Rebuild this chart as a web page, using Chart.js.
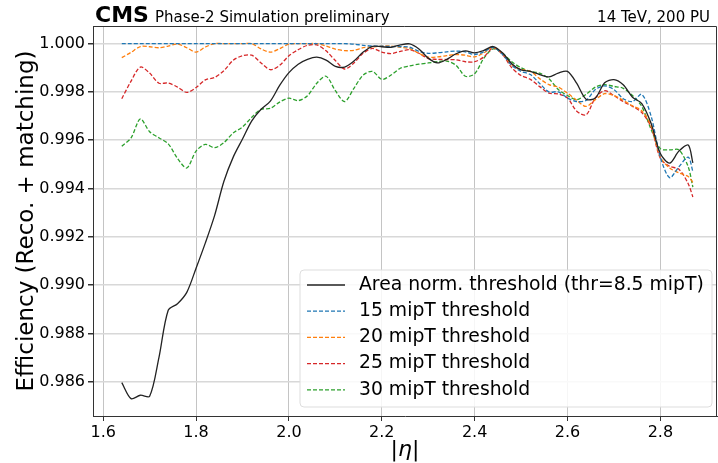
<!DOCTYPE html>
<html>
<head>
<meta charset="utf-8">
<script src="https://cdn.jsdelivr.net/npm/chart.js@4/dist/chart.umd.min.js"></script>
<style>
  html, body { margin: 0; padding: 0; background: #fff; }
  #wrap { width: 718px; height: 463px; }
</style>
</head>
<body>
<div id="wrap"><canvas id="chart" width="718" height="463"></canvas></div>
<script>
// |eta| bin centres
const eta = [1.64, 1.66, 1.68, 1.70, 1.72, 1.74, 1.76, 1.78, 1.80, 1.82, 1.84, 1.86, 1.88, 1.90, 1.92, 1.94,
  1.96, 1.98, 2.00, 2.02, 2.04, 2.06, 2.08, 2.10, 2.12, 2.14, 2.16, 2.18, 2.20, 2.22, 2.24, 2.26,
  2.28, 2.30, 2.32, 2.34, 2.36, 2.38, 2.40, 2.42, 2.44, 2.46, 2.48, 2.50, 2.52, 2.54, 2.56, 2.58,
  2.60, 2.62, 2.64, 2.66, 2.68, 2.70, 2.72, 2.74, 2.76, 2.78, 2.80, 2.82, 2.84, 2.86, 2.87];

const effArea = [0.98596, 0.98530, 0.98544, 0.98540, 0.98700, 0.98896, 0.98923, 0.98970, 0.99070, 0.99175, 0.99289, 0.99430, 0.99530, 0.99605, 0.99680, 0.99728,
  0.99762, 0.99827, 0.99880, 0.99915, 0.99935, 0.99944, 0.99932, 0.99906, 0.99903, 0.99928, 0.99965, 0.99989, 0.99987, 0.99985, 0.99995, 0.99999,
  0.99978, 0.99940, 0.99920, 0.99935, 0.99958, 0.99970, 0.99962, 0.99972, 0.99988, 0.99962, 0.99917, 0.99891, 0.99885, 0.99872, 0.99862, 0.99878,
  0.99885, 0.99835, 0.99770, 0.99775, 0.99838, 0.99851, 0.99830, 0.99778, 0.99752, 0.99670, 0.99545, 0.99505, 0.99555, 0.99580, 0.99506];

const eff15 = [1.00000, 1.00000, 1.00000, 1.00000, 1.00000, 1.00000, 1.00000, 1.00000, 1.00000, 1.00000, 1.00000, 1.00000, 1.00000, 1.00000, 1.00000, 1.00000,
  1.00000, 1.00000, 1.00000, 1.00000, 1.00000, 1.00000, 1.00000, 1.00000, 1.00000, 0.99998, 0.99993, 0.99990, 0.99990, 0.99988, 0.99988, 0.99985,
  0.99968, 0.99960, 0.99962, 0.99966, 0.99969, 0.99966, 0.99955, 0.99966, 0.99985, 0.99955, 0.99910, 0.99885, 0.99872, 0.99835, 0.99800, 0.99800,
  0.99775, 0.99760, 0.99765, 0.99810, 0.99825, 0.99810, 0.99772, 0.99760, 0.99790, 0.99700, 0.99530, 0.99445, 0.99490, 0.99530, 0.99470];

const eff20 = [0.99942, 0.99964, 0.99988, 0.99987, 0.99983, 0.99990, 0.99998, 0.99983, 0.99965, 0.99986, 1.00000, 1.00000, 1.00000, 1.00000, 1.00000, 0.99978,
  0.99965, 0.99979, 0.99998, 1.00000, 1.00000, 1.00000, 0.99990, 0.99977, 0.99971, 0.99972, 0.99983, 0.99986, 0.99990, 0.99990, 0.99985, 0.99979,
  0.99960, 0.99944, 0.99945, 0.99950, 0.99955, 0.99952, 0.99945, 0.99962, 0.99985, 0.99960, 0.99912, 0.99893, 0.99885, 0.99855, 0.99830, 0.99820,
  0.99795, 0.99765, 0.99740, 0.99768, 0.99793, 0.99785, 0.99765, 0.99742, 0.99722, 0.99660, 0.99530, 0.99485, 0.99465, 0.99450, 0.99425];

const eff25 = [0.99772, 0.99845, 0.99903, 0.99878, 0.99836, 0.99837, 0.99820, 0.99798, 0.99818, 0.99850, 0.99860, 0.99888, 0.99931, 0.99950, 0.99952, 0.99920,
  0.99892, 0.99910, 0.99950, 0.99975, 0.99993, 0.99995, 0.99970, 0.99930, 0.99895, 0.99920, 0.99960, 0.99980, 0.99965, 0.99959, 0.99968, 0.99975,
  0.99960, 0.99938, 0.99935, 0.99934, 0.99933, 0.99925, 0.99925, 0.99945, 0.99982, 0.99955, 0.99900, 0.99868, 0.99852, 0.99822, 0.99795, 0.99792,
  0.99775, 0.99720, 0.99705, 0.99775, 0.99805, 0.99785, 0.99760, 0.99740, 0.99715, 0.99655, 0.99525, 0.99492, 0.99480, 0.99420, 0.99365];

const eff30 = [0.99575, 0.99610, 0.99688, 0.99635, 0.99610, 0.99585, 0.99525, 0.99485, 0.99555, 0.99583, 0.99569, 0.99590, 0.99630, 0.99655, 0.99695, 0.99728,
  0.99732, 0.99758, 0.99774, 0.99764, 0.99784, 0.99836, 0.99865, 0.99805, 0.99760, 0.99815, 0.99870, 0.99885, 0.99852, 0.99870, 0.99898, 0.99908,
  0.99915, 0.99920, 0.99925, 0.99928, 0.99910, 0.99865, 0.99875, 0.99940, 0.99978, 0.99960, 0.99925, 0.99900, 0.99885, 0.99878, 0.99855, 0.99810,
  0.99785, 0.99768, 0.99790, 0.99820, 0.99830, 0.99823, 0.99815, 0.99785, 0.99740, 0.99645, 0.99565, 0.99560, 0.99560, 0.99490, 0.99406];

const seriesLabels = ['Area norm. threshold (thr=8.5 mipT)', '15 mipT threshold', '20 mipT threshold', '25 mipT threshold', '30 mipT threshold'];
const xTicks = [1.6, 1.8, 2.0, 2.2, 2.4, 2.6, 2.8];
const yTicks = [0.986, 0.988, 0.990, 0.992, 0.994, 0.996, 0.998, 1.000];

const FONT = "'DejaVu Sans', sans-serif";

function pts(arr) {
    return eta.map((x, i) => ({ x: x, y: arr[i] }));
}

function lineSet(label, arr, color, dashed) {
    return {
        label: label,
        data: pts(arr),
        borderColor: color,
        borderWidth: dashed ? 1.3 : 1.3,
        borderDash: dashed ? [4, 2] : [],
        pointRadius: 0,
        tension: 0.3,
        fill: false
    };
}

// header text above the frame
const headerPlugin = {
    id: 'header',
    afterDraw(chart) {
        const ctx = chart.ctx;
        const a = chart.chartArea;
        ctx.save();
        ctx.fillStyle = '#000';
        ctx.textBaseline = 'alphabetic';
        ctx.font = 'bold 22px ' + FONT;
        ctx.fillText('CMS', 95, 22);
        const w = ctx.measureText('CMS').width;
        ctx.font = '15px ' + FONT;
        ctx.fillText('Phase-2 Simulation preliminary', 95 + w + 6, 22);
        ctx.textAlign = 'right';
        ctx.fillText('14 TeV, 200 PU', 710, 22);
        // frame top and right
        ctx.strokeStyle = '#333';
        ctx.lineWidth = 1;
        ctx.beginPath();
        ctx.moveTo(a.left, a.top + 0.5);
        ctx.lineTo(a.right - 0.5, a.top + 0.5);
        ctx.lineTo(a.right - 0.5, a.bottom);
        ctx.stroke();
        ctx.restore();
    }
};

// legend box inside the plot, lower right
const legendPlugin = {
    id: 'innerLegend',
    afterDatasetsDraw(chart) {
        const ctx = chart.ctx;
        ctx.save();
        const bx = 300, by = 270, bw = 412, bh = 137, r = 4;
        ctx.beginPath();
        ctx.roundRect(bx, by, bw, bh, r);
        ctx.fillStyle = 'rgba(255,255,255,0.85)';
        ctx.fill();
        ctx.strokeStyle = '#dddddd';
        ctx.lineWidth = 1;
        ctx.stroke();
        ctx.font = '18.8px ' + FONT;
        ctx.textBaseline = 'middle';
        chart.data.datasets.forEach((ds, i) => {
            const y = 285 + i * 26.2;
            ctx.strokeStyle = ds.borderColor;
            ctx.lineWidth = ds.borderWidth;
            ctx.setLineDash(ds.borderDash);
            ctx.beginPath();
            ctx.moveTo(307, y);
            ctx.lineTo(345, y);
            ctx.stroke();
            ctx.setLineDash([]);
            ctx.fillStyle = '#000';
            ctx.fillText(ds.label, 359, y);
        });
        ctx.restore();
    }
};

new Chart(document.getElementById('chart'), {
    type: 'line',
    data: {
        datasets: [
            lineSet(seriesLabels[0], effArea, '#222222', false),
            lineSet(seriesLabels[1], eff15, '#1f77b4', true),
            lineSet(seriesLabels[2], eff20, '#ff7f0e', true),
            lineSet(seriesLabels[3], eff25, '#d62728', true),
            lineSet(seriesLabels[4], eff30, '#2ca02c', true)
        ]
    },
    options: {
        responsive: false,
        animation: false,
        devicePixelRatio: 1,
        layout: { padding: { top: 26, right: 1, left: 0, bottom: 0 } },
        plugins: {
            legend: { display: false },
            tooltip: { enabled: false }
        },
        scales: {
            x: {
                type: 'linear',
                min: 1.578,
                max: 2.922,
                afterBuildTicks: s => { s.ticks = xTicks.map(v => ({ value: v })); },
                afterFit: s => { s.height = 47; },
                ticks: {
                    callback: v => v.toFixed(1),
                    font: { family: FONT, size: 16 },
                    color: '#000',
                    padding: 2,
                    maxRotation: 0
                },
                grid: { color: '#c4c4c4', lineWidth: 1, tickLength: 5, tickColor: '#333' },
                border: { color: '#333', width: 1 },
                title: {
                    display: true,
                    text: '|η|',
                    font: { family: FONT, size: 22, style: 'italic' },
                    color: '#000',
                    padding: { top: 0, bottom: 0 }
                }
            },
            y: {
                min: 0.98458,
                max: 1.00073,
                afterBuildTicks: s => { s.ticks = yTicks.map(v => ({ value: v })); },
                afterFit: s => { s.width = 93; },
                ticks: {
                    callback: v => v.toFixed(3),
                    font: { family: FONT, size: 16 },
                    color: '#000',
                    padding: 3
                },
                grid: { color: '#d8d8d8', lineWidth: 1.5, tickLength: 5, tickColor: '#333' },
                border: { color: '#333', width: 1 },
                title: {
                    display: true,
                    text: 'Efficiency (Reco. + matching)',
                    font: { family: FONT, size: 23 },
                    color: '#000',
                    padding: { top: 13, bottom: 0 }
                }
            }
        }
    },
    plugins: [headerPlugin, legendPlugin]
});
</script>
</body>
</html>
